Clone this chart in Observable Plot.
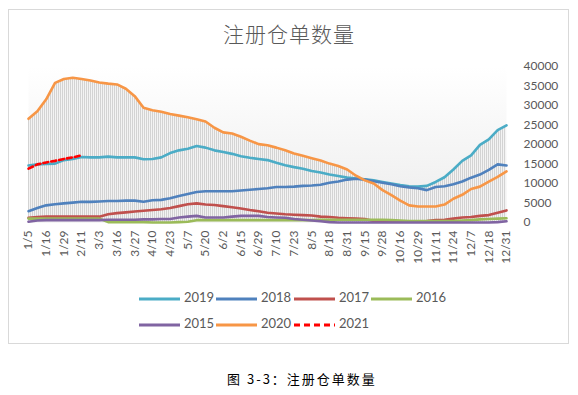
<!DOCTYPE html>
<html><head><meta charset="utf-8">
<script src="https://cdn.jsdelivr.net/npm/d3@7"></script>
<script src="https://cdn.jsdelivr.net/npm/@observablehq/plot@0.6"></script>
<style>
body{margin:0;background:#fff;width:578px;height:395px;position:relative;overflow:hidden;font-family:Lato,"Noto Sans CJK SC",sans-serif;}
#frame{position:absolute;left:8px;top:9px;width:561px;height:335px;border:1px solid #d9d9d9;box-sizing:border-box;}
#title{position:absolute;left:0;width:578px;top:23px;text-align:center;font-size:21px;line-height:21px;letter-spacing:1px;color:#595959;font-family:"Noto Sans CJK SC",sans-serif;font-weight:300;}
#chart{position:absolute;left:0;top:50px;}
.leg{position:absolute;height:14px;font-size:13px;line-height:14px;color:#595959;white-space:nowrap;}
.leg svg{vertical-align:middle;margin-right:4px;}
#caption{position:absolute;left:227px;top:371px;font-size:13px;line-height:16px;letter-spacing:2px;color:#000;font-family:"Noto Sans CJK SC",sans-serif;}
</style></head>
<body>
<div id="frame"></div>
<div id="title">注册仓单数量</div>
<div id="chart"></div>
<div id="legend"></div>
<div id="caption">图 3-3：注册仓单数量</div>
<script>
const labels = ["1/5","1/16","1/29","2/11","3/3","3/16","3/27","4/10","4/23","5/7","5/20","6/2","6/15","6/29","7/10","7/23","8/5","8/18","8/31","9/15","9/28","10/16","10/29","11/11","11/24","12/7","12/18","12/31"];
// positions in label units, half-label steps
const pos = d3.range(55).map(i => i / 2);
const s2019 = [14600,14900,15000,15100,16000,16300,16800,16700,16700,16900,16700,16700,16700,16200,16300,16700,17800,18500,18900,19600,19200,18500,18100,17600,17000,16600,16300,16000,15300,14700,14200,13800,13200,12800,12300,11900,11500,11300,11100,10800,10400,10000,9600,9300,9200,9400,10400,11600,13600,15800,17200,19900,21300,23700,24900];
const s2018 = [2900,3700,4400,4700,4900,5100,5300,5300,5400,5500,5500,5600,5600,5300,5700,5800,6200,6800,7300,7800,8000,8000,8000,8000,8200,8400,8600,8800,9100,9100,9200,9400,9500,9700,10200,10500,11000,11200,11000,10600,10200,9800,9300,9000,8800,8300,9100,9300,9800,10500,11500,12300,13500,14900,14600];
const s2017 = [1200,1400,1500,1500,1500,1500,1500,1500,1500,2100,2400,2600,2800,3000,3200,3400,3700,4200,4700,4900,4600,4500,4200,3900,3600,3200,2900,2500,2300,2100,2000,1900,1800,1500,1400,1200,1100,1000,900,400,300,300,300,300,300,400,600,700,1000,1300,1400,1700,1900,2500,3100];
const s2016 = [1000,1000,1000,1000,1000,1000,1000,1000,1000,100,100,100,100,100,0,0,0,100,200,600,600,600,600,600,600,600,600,600,600,600,600,600,600,700,700,700,700,700,700,700,700,600,500,400,400,400,400,400,400,500,600,800,900,1000,1100];
const s2015 = [200,500,600,600,600,600,600,600,600,700,700,700,700,800,800,900,900,1300,1500,1700,1300,1300,1300,1500,1700,1700,1700,1400,1300,1200,900,700,500,300,100,0,0,0,0,0,0,0,0,0,0,0,0,0,0,0,0,0,0,100,300];
const s2020 = [26600,28500,31600,35800,36800,37100,36800,36400,35900,35600,35400,34300,32400,29400,28800,28400,27800,27400,27000,26500,25900,24300,23100,22800,22000,21000,20100,19800,19200,18500,17700,17100,16500,15900,15100,14500,13600,12000,10800,10000,8300,7000,5600,4400,4100,4100,4100,4600,6100,7100,8600,9200,10500,11700,13100];
const s2021 = [13800,14900,15400,15800,16300,16700,17200];
const years = ["2019","2018","2017","2016","2015","2020","2021"];
const colors = ["#4bacc6","#4f81bd","#c0504d","#9bbb59","#8064a2","#f79646","#ff0000"];
const seriesVals = [s2019,s2018,s2017,s2016,s2015,s2020,s2021];

const series = seriesVals.map((vals, j) => vals.map((v, i) => ({t: pos[i], v, year: years[j]})));
const env = pos.map((t, i) => {
  const vs = seriesVals.filter(a => i < a.length).map(a => a[i]);
  return {t, lo: d3.min(vs), hi: d3.max(vs)};
});

const defsMark = () => {
  const g = d3.create("svg:g");
  const defs = g.append("defs");
  const pat = defs.append("pattern").attr("id","hl").attr("patternUnits","userSpaceOnUse").attr("width",2).attr("height",4);
  pat.append("rect").attr("width",2).attr("height",4).attr("fill","#f3f3f3");
  pat.append("rect").attr("width",1).attr("height",4).attr("fill","#d3d3d3");
  const lg = defs.append("linearGradient").attr("id","bg").attr("x1",0).attr("y1",0).attr("x2",0).attr("y2",1);
  lg.append("stop").attr("offset","0%").attr("stop-color","#ffffff");
  lg.append("stop").attr("offset","100%").attr("stop-color","#ececec");
  return g.node();
};

const marks = [
  defsMark,
  Plot.frame({fill: "url(#bg)", stroke: null}),
  Plot.areaY(env, {x: "t", y1: "lo", y2: "hi", fill: "url(#hl)"}),
  Plot.axisX({ticks: d3.range(28), tickFormat: i => labels[i], tickRotate: -90, tickSize: 0, tickPadding: 8, label: null}),
  Plot.axisY({anchor: "right", ticks: d3.range(0, 40001, 5000), tickFormat: d3.format("d"), tickSize: 0, tickPadding: 17, label: null})
];
series.forEach((data, j) => {
  marks.push(Plot.lineY(data, {x: "t", y: "v", stroke: colors[j], strokeWidth: 2.6,
    strokeDasharray: years[j] === "2021" ? "5,3" : null}));
});

const svg = Plot.plot({
  width: 578, height: 230,
  marginLeft: 28, marginRight: 72, marginTop: 16, marginBottom: 58,
  x: {type: "linear", domain: [0, 27]},
  y: {domain: [0, 40000]},
  style: {color: "#595959", fontSize: "12px", fontFamily: "Lato, sans-serif", background: "transparent"},
  marks
});
document.getElementById("chart").appendChild(svg);

// legend
const order = [[0,0],[1,0],[2,0],[3,0],[4,1],[5,1],[6,1]];
const lx = [139, 216, 294, 371];
const legend = document.getElementById("legend");
const legendOrder = ["2019","2018","2017","2016","2015","2020","2021"];
legendOrder.forEach((yr, k) => {
  const j = years.indexOf(yr);
  const col = k < 4 ? k : k - 4;
  const row = k < 4 ? 0 : 1;
  const div = document.createElement("div");
  div.className = "leg";
  div.style.left = lx[col] + "px";
  div.style.top = (290 + row * 26) + "px";
  const dash = yr === "2021" ? ' stroke-dasharray="6,4"' : '';
  div.innerHTML = `<svg width="41" height="6"><line x1="0" y1="3" x2="41" y2="3" stroke="${colors[j]}" stroke-width="3"${dash}/></svg>${yr}`;
  legend.appendChild(div);
});
</script>
</body></html>
